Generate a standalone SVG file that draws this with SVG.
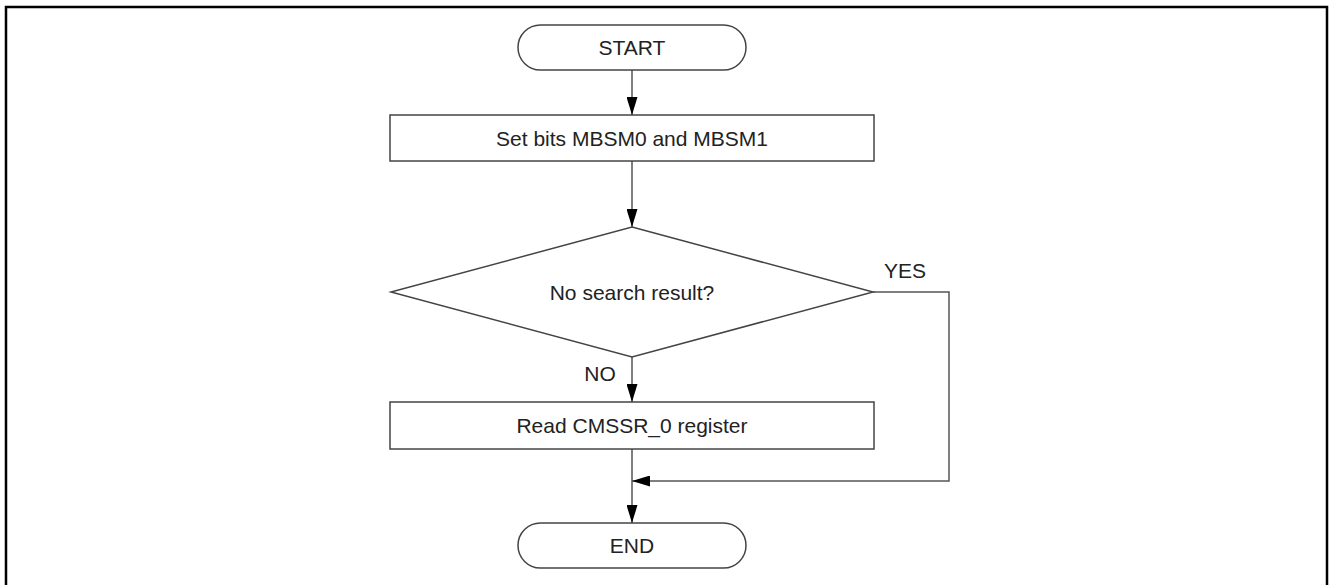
<svg xmlns="http://www.w3.org/2000/svg" width="1330" height="585" viewBox="0 0 1330 585">
<style>
.shape{fill:#fff;stroke:#444;stroke-width:1.5}
.line{fill:none;stroke:#555;stroke-width:1.5}
text{font-family:"Liberation Sans",Arial,sans-serif;font-size:21px;fill:#222}
.c{text-anchor:middle;dominant-baseline:central}
</style>
<defs>
<marker id="arr" markerWidth="18" markerHeight="11" refX="18" refY="5.5" orient="auto" markerUnits="userSpaceOnUse">
<path d="M0,0 L18,5.5 L0,11 Z" fill="#000"/>
</marker>
</defs>
<rect x="6" y="7" width="1321" height="600" fill="none" stroke="#000" stroke-width="2.5"/>
<g id="connectors">
<line class="line" x1="632" y1="70" x2="632" y2="115" marker-end="url(#arr)"/>
<line class="line" x1="632" y1="161" x2="632" y2="227" marker-end="url(#arr)"/>
<line class="line" x1="632" y1="357" x2="632" y2="402" marker-end="url(#arr)"/>
<line class="line" x1="632" y1="449" x2="632" y2="523" marker-end="url(#arr)"/>
<polyline class="line" points="873,292 949,292 949,481 632,481" marker-end="url(#arr)"/>
<text x="905" y="278" text-anchor="middle">YES</text>
<text x="600" y="381" text-anchor="middle">NO</text>
</g>
<g id="start">
<rect class="shape" x="518" y="25" width="228" height="45" rx="22.5"/>
<text class="c" x="632" y="47.5">START</text>
</g>
<g id="set-bits">
<rect class="shape" x="390" y="115" width="484" height="46"/>
<text class="c" x="632" y="138">Set bits MBSM0 and MBSM1</text>
</g>
<g id="decision">
<polygon class="shape" points="632,227 873,292 632,357 391,292"/>
<text class="c" x="632" y="292">No search result?</text>
</g>
<g id="read">
<rect class="shape" x="390" y="402" width="484" height="47"/>
<text class="c" x="632" y="425.5">Read CMSSR_0 register</text>
</g>
<g id="end">
<rect class="shape" x="518" y="523" width="228" height="45" rx="22.5"/>
<text class="c" x="632" y="545.5">END</text>
</g>
</svg>
